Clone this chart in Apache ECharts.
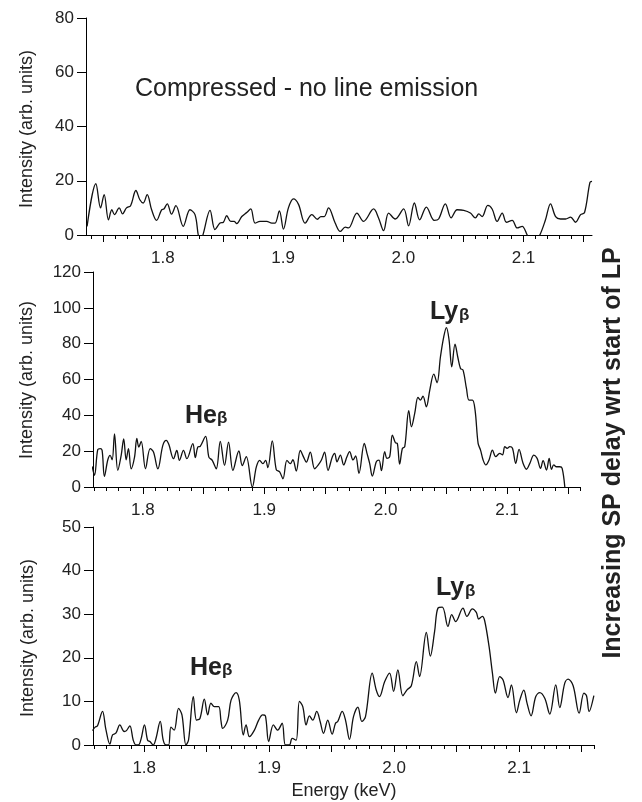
<!DOCTYPE html>
<html lang="en">
<head>
<meta charset="UTF-8">
<title>Spectra vs SP delay</title>
<script src="https://cdn.jsdelivr.net/npm/echarts@6/dist/echarts.min.js"></script>
<style>
    html, body {margin: 0; padding: 0; background: #fff;}
    #main {width: 642px; height: 802px;}
</style>
</head>
<body>
<div id="main"></div>
<script type="text/javascript">
// energy (keV) / intensity pairs
var topE = [1.7369, 1.7442, 1.7481, 1.7511, 1.7547, 1.7575, 1.7597, 1.7636, 1.7664, 1.7697, 1.7731, 1.7775, 1.7808, 1.7836, 1.7869, 1.7906, 1.7947, 1.7989, 1.8008, 1.8036, 1.8072, 1.8108, 1.8169, 1.8225, 1.8267, 1.8294, 1.8312, 1.8336, 1.8392, 1.8433, 1.8475, 1.8503, 1.8531, 1.8564, 1.8592, 1.8614, 1.8656, 1.8697, 1.8731, 1.8767, 1.8808, 1.8864, 1.8906, 1.8933, 1.8969, 1.9003, 1.9044, 1.9086, 1.9128, 1.9183, 1.9239, 1.9286, 1.9314, 1.9342, 1.9378, 1.9433, 1.9475, 1.9517, 1.9544, 1.9614, 1.9669, 1.9753, 1.9794, 1.9836, 1.9878, 1.9933, 2.0003, 2.0044, 2.0092, 2.0136, 2.0192, 2.0258, 2.0294, 2.035, 2.0398, 2.0448, 2.0503, 2.0558, 2.06, 2.0628, 2.0656, 2.0703, 2.0739, 2.0781, 2.0823, 2.0858, 2.0906, 2.0948, 2.0989, 2.1031, 2.108, 2.1136, 2.1183, 2.1225, 2.1267, 2.1308, 2.135, 2.1392, 2.1433, 2.1475, 2.1508, 2.1553, 2.157];
var topI = [3.2, 18.9, 10, 14.9, 5.6, 9.3, 7.5, 10, 7.8, 10, 10.8, 16.4, 13, 11.8, 14.9, 9.3, 5.4, 9.3, 9.6, 11.5, 7.7, 10.8, 3.2, 9.3, 7.5, 0, -3, 0.5, 9.1, 2, 4.4, 4.7, 7.1, 5, 5, 4.2, 6.8, 8.3, 9.6, 4.4, 5, 5, 4.4, 4.4, 8.9, 2.2, 10, 13.3, 11.3, 4.4, 7.5, 5.8, 6.8, 6.8, 10, 4.4, 1.3, 2.9, 2.6, 8.1, 5, 9.6, 6.3, 1.6, 8.1, 5.9, 9.6, 3.4, 11.8, 5.6, 10.3, 5.4, 5.9, 11.5, 6.3, 9.3, 9.1, 8.1, 6.3, 7.8, 6.8, 10.9, 9.6, 5, 8.1, 4.7, 5.4, 2.6, 3.2, 0, -4, 0, 5.6, 11.5, 6.8, 5.9, 5.9, 6.6, 4.7, 7.5, 8.3, 19.4, 19.8];

var midE = [1.7583, 1.7602, 1.7629, 1.7649, 1.7665, 1.7684, 1.7712, 1.7731, 1.7748, 1.7767, 1.7794, 1.7822, 1.7843, 1.7863, 1.7882, 1.7904, 1.7932, 1.7951, 1.7967, 1.7987, 1.8022, 1.8061, 1.8088, 1.8124, 1.8165, 1.8193, 1.8214, 1.8253, 1.828, 1.8302, 1.8335, 1.8363, 1.8412, 1.8432, 1.8453, 1.8473, 1.8517, 1.8544, 1.8572, 1.8605, 1.8638, 1.8673, 1.8706, 1.8742, 1.8791, 1.8819, 1.8852, 1.8902, 1.8935, 1.8962, 1.8989, 1.9011, 1.903, 1.9066, 1.9099, 1.9127, 1.9154, 1.9187, 1.9215, 1.9236, 1.9264, 1.9297, 1.9324, 1.9347, 1.9379, 1.9415, 1.9442, 1.947, 1.9497, 1.9525, 1.9561, 1.958, 1.9599, 1.9627, 1.9654, 1.9681, 1.9703, 1.9731, 1.9753, 1.978, 1.9824, 1.9846, 1.9868, 1.989, 1.9923, 1.9945, 1.9965, 1.9992, 2.0011, 2.0033, 2.0055, 2.008, 2.0096, 2.0115, 2.0138, 2.0157, 2.019, 2.0212, 2.0239, 2.0266, 2.0286, 2.0307, 2.0335, 2.0363, 2.0396, 2.0423, 2.0451, 2.0478, 2.05, 2.0522, 2.0544, 2.0571, 2.0593, 2.0616, 2.0637, 2.0665, 2.0686, 2.0714, 2.0736, 2.0761, 2.0781, 2.0802, 2.0825, 2.0851, 2.0879, 2.0906, 2.0939, 2.0962, 2.0981, 2.1, 2.1022, 2.1044, 2.1071, 2.1098, 2.1131, 2.1159, 2.1187, 2.122, 2.1247, 2.1275, 2.1296, 2.1324, 2.1346, 2.1365, 2.1384, 2.1406, 2.1434, 2.1453, 2.1475];
var midI = [11.5, 6.5, 20.8, 21.4, 20.4, 5.9, 15.2, 17.7, 15.2, 29.7, 9.3, 17.7, 26.8, 15.2, 21.4, 10.2, 16.7, 27.1, 22.3, 25.5, 10.2, 21.4, 19.5, 10.2, 23.2, 26, 23.8, 15.8, 20.4, 14.9, 20.4, 15.8, 24.2, 16.4, 22.3, 22.7, 28.3, 16.7, 14.9, 10.2, 25.5, 12.1, 25.1, 9.3, 20.1, 12, 17, 0, 11.2, 14.9, 13, 14.9, 10.8, 25.7, 9.7, 8.4, 4.6, 14.9, 13, 15.2, 8.9, 20.4, 16.7, 13.9, 19.5, 10.2, 12.1, 14.9, 19.5, 9.3, 16.9, 18.8, 14.1, 17.8, 12.3, 16.9, 19.7, 15.1, 17.3, 7.6, 24.3, 18.8, 13.2, 6.1, 14.1, 15, 9.1, 19.7, 16, 16.9, 29, 24.7, 24.3, 12.8, 21.6, 22.5, 42.6, 33.6, 41.1, 50, 48.5, 50.7, 44.8, 54.1, 63, 58.2, 72.7, 83.8, 89, 82, 67.1, 79.7, 72.7, 66.2, 65.2, 55, 48.5, 48.5, 42.9, 24.3, 20.6, 15.1, 12.3, 15.1, 20.6, 16.9, 18.8, 18, 22.5, 21.6, 22.5, 21.6, 13.2, 21, 13.2, 9.9, 13.2, 17.8, 16, 10.4, 14.7, 9.5, 16, 9.9, 12.3, 11.3, 11.3, 10.4, 0];

var botE = [1.7586, 1.7607, 1.7626, 1.7666, 1.7693, 1.7725, 1.7746, 1.7773, 1.7805, 1.784, 1.7858, 1.7885, 1.7912, 1.7934, 1.7954, 1.7974, 1.8002, 1.8027, 1.8046, 1.8072, 1.8094, 1.8128, 1.8152, 1.8174, 1.8195, 1.8214, 1.824, 1.8275, 1.8302, 1.8334, 1.8355, 1.8393, 1.8419, 1.8446, 1.8481, 1.8508, 1.8534, 1.8561, 1.8596, 1.8615, 1.8628, 1.8668, 1.8695, 1.8735, 1.8761, 1.8793, 1.8815, 1.8842, 1.8882, 1.8916, 1.8948, 1.897, 1.8996, 1.9034, 1.9068, 1.9104, 1.913, 1.9162, 1.9184, 1.9216, 1.9242, 1.9269, 1.9296, 1.9322, 1.9349, 1.9381, 1.9408, 1.9435, 1.9469, 1.9504, 1.9531, 1.9549, 1.9585, 1.9611, 1.9643, 1.9675, 1.971, 1.9742, 1.9771, 1.9825, 1.9857, 1.9883, 1.9924, 1.9964, 1.9996, 2.003, 2.007, 2.0102, 2.0138, 2.0178, 2.0204, 2.0258, 2.029, 2.0324, 2.0351, 2.0386, 2.0431, 2.0461, 2.0493, 2.0551, 2.0583, 2.0626, 2.0658, 2.0677, 2.0706, 2.0725, 2.076, 2.0787, 2.0811, 2.0845, 2.0872, 2.0912, 2.0939, 2.0979, 2.1006, 2.1038, 2.1064, 2.1096, 2.1134, 2.1166, 2.1206, 2.1246, 2.1294, 2.1326, 2.1366, 2.1393, 2.1433, 2.1481, 2.1519, 2.154, 2.1561, 2.1599];
var botI = [3.3, 4.1, 4.4, 7.7, 3.6, 0.2, 2.3, 2.7, 4.6, 3.1, 3.3, 4.4, 1.1, 0, 0, 1.3, 4.6, 1.1, 0.8, 0, 1.5, 5.4, 1.1, 0, 0, 4.1, 3.4, 8.4, 6.9, 0, 1.2, 11.1, 5.7, 6.1, 10.5, 6.9, 9.6, 8.8, 8.8, 5.4, 3.8, 5.7, 10.3, 12, 10.3, 2.3, 4.6, 1.9, 3.4, 5.7, 6.9, 6.7, 0.8, 4.6, 3.4, 5, 0, 0, 1.5, 1.1, 10, 8.8, 4.6, 6.7, 5.7, 7.7, 5.4, 2.7, 5.7, 2.5, 5, 5.4, 7.7, 5.7, 1.3, 6.5, 8.7, 5.4, 6.5, 16.5, 12.6, 11.1, 14.5, 16.5, 12.3, 17.2, 11.3, 12.6, 13.6, 19.1, 15.7, 25.8, 20.4, 26, 31.4, 31.6, 27.2, 29.9, 28.3, 31.4, 29.5, 31.2, 30.4, 28.9, 29.5, 28.5, 22.6, 16.5, 11.9, 15.7, 14.9, 10.9, 13.8, 7.4, 10.3, 12.6, 9.6, 6.7, 11.1, 12, 10.7, 7.1, 13.8, 8.6, 14.2, 15.1, 13.6, 7.3, 11.9, 11.3, 7.7, 11.3];

// axes
var xLabels = [1.8, 1.9, 2.0, 2.1];
var xMajor = [1.75, 1.8, 1.85, 1.9, 1.95, 2.0, 2.05, 2.1, 2.15];
var xRanges = [[1.736, 2.157], [1.759, 2.16], [1.759, 2.16]];
var yMax = [80, 120, 50];
var yStep = [20, 20, 10];

var FONT = '"Liberation Sans", Arial, Helvetica, sans-serif';

function pairs(xs, ys) {
    var out = [];
    for (var i = 0; i < xs.length; i++) out.push([xs[i], ys[i]]);
    return out;
}
function inRange(list, r) {
    return list.filter(function (v) { return v >= r[0] - 1e-9 && v <= r[1] + 1e-9; });
}
var xMinor = [];
for (var k = 174; k <= 216; k++) xMinor.push(k / 100);

var grids = [
    {left: 86, top: 18, width: 506, height: 217},
    {left: 93, top: 272, width: 487, height: 215},
    {left: 93, top: 527, width: 501, height: 218}
];

var xAxes = [], yAxes = [];
for (var g = 0; g < 3; g++) {
    // major ticks + labels
    xAxes.push({
        gridIndex: g, type: 'value', position: 'bottom',
        min: xRanges[g][0], max: xRanges[g][1],
        axisLine: {show: true, onZero: false, lineStyle: {color: '#000', width: 1}},
        axisTick: {show: true, length: 7, customValues: inRange(xMajor, xRanges[g]), lineStyle: {color: '#000', width: 1}},
        axisLabel: {
            customValues: xLabels, margin: 15, fontSize: 17, fontFamily: FONT, color: '#222',
            formatter: function (v) { return v.toFixed(1); }
        },
        splitLine: {show: false}
    });
    // minor ticks every 0.01
    xAxes.push({
        gridIndex: g, type: 'value', position: 'bottom',
        min: xRanges[g][0], max: xRanges[g][1],
        axisLine: {show: false},
        axisTick: {show: true, length: 4, customValues: inRange(xMinor, xRanges[g]), lineStyle: {color: '#000', width: 1}},
        axisLabel: {show: false},
        splitLine: {show: false}
    });
    yAxes.push({
        gridIndex: g, type: 'value', min: 0, max: yMax[g], interval: yStep[g],
        axisLine: {show: true, lineStyle: {color: '#000', width: 1}},
        axisTick: {show: true, length: 9, lineStyle: {color: '#000', width: 1}},
        axisLabel: {margin: 12, fontSize: 17, fontFamily: FONT, color: '#222'},
        splitLine: {show: false}
    });
}

function spectrum(idx, xs, ys) {
    return {
        type: 'line', xAxisIndex: idx * 2, yAxisIndex: idx,
        data: pairs(xs, ys), showSymbol: false, smooth: 0.35, clip: true,
        lineStyle: {color: '#111', width: 1.3}, silent: true
    };
}

function txt(x, y, s, font, align, vAlign, rot) {
    return {
        type: 'text', x: x, y: y, rotation: rot || 0,
        style: {text: s, font: font, fill: '#222', align: align || 'left', verticalAlign: vAlign || 'alphabetic'}
    };
}
var big = 'bold 25px ' + FONT, sub = 'bold 17px ' + FONT, axisFont = '18px ' + FONT;

var myChart = echarts.init(document.getElementById('main'));
myChart.setOption({
    animation: false,
    grid: grids,
    xAxis: xAxes,
    yAxis: yAxes,
    series: [spectrum(0, topE, topI), spectrum(1, midE, midI), spectrum(2, botE, botI)],
    graphic: [
        txt(135, 77, 'Compressed - no line emission', '25px ' + FONT),
        txt(185, 404, 'He', big), txt(217, 410, 'β', sub),
        txt(430, 300, 'Ly', big), txt(459, 307, 'β', sub),
        txt(190, 656, 'He', big), txt(222, 662, 'β', sub),
        txt(436, 576, 'Ly', big), txt(465, 583, 'β', sub),
        txt(27, 129, 'Intensity (arb. units)', axisFont, 'center', 'middle', Math.PI / 2),
        txt(27, 380, 'Intensity (arb. units)', axisFont, 'center', 'middle', Math.PI / 2),
        txt(28, 638, 'Intensity (arb. units)', axisFont, 'center', 'middle', Math.PI / 2),
        txt(344, 791, 'Energy (keV)', axisFont, 'center', 'middle'),
        txt(613, 453, 'Increasing SP delay wrt start of LP', 'bold 25px ' + FONT, 'center', 'middle', Math.PI / 2)
    ]
});
</script>
</body>
</html>
